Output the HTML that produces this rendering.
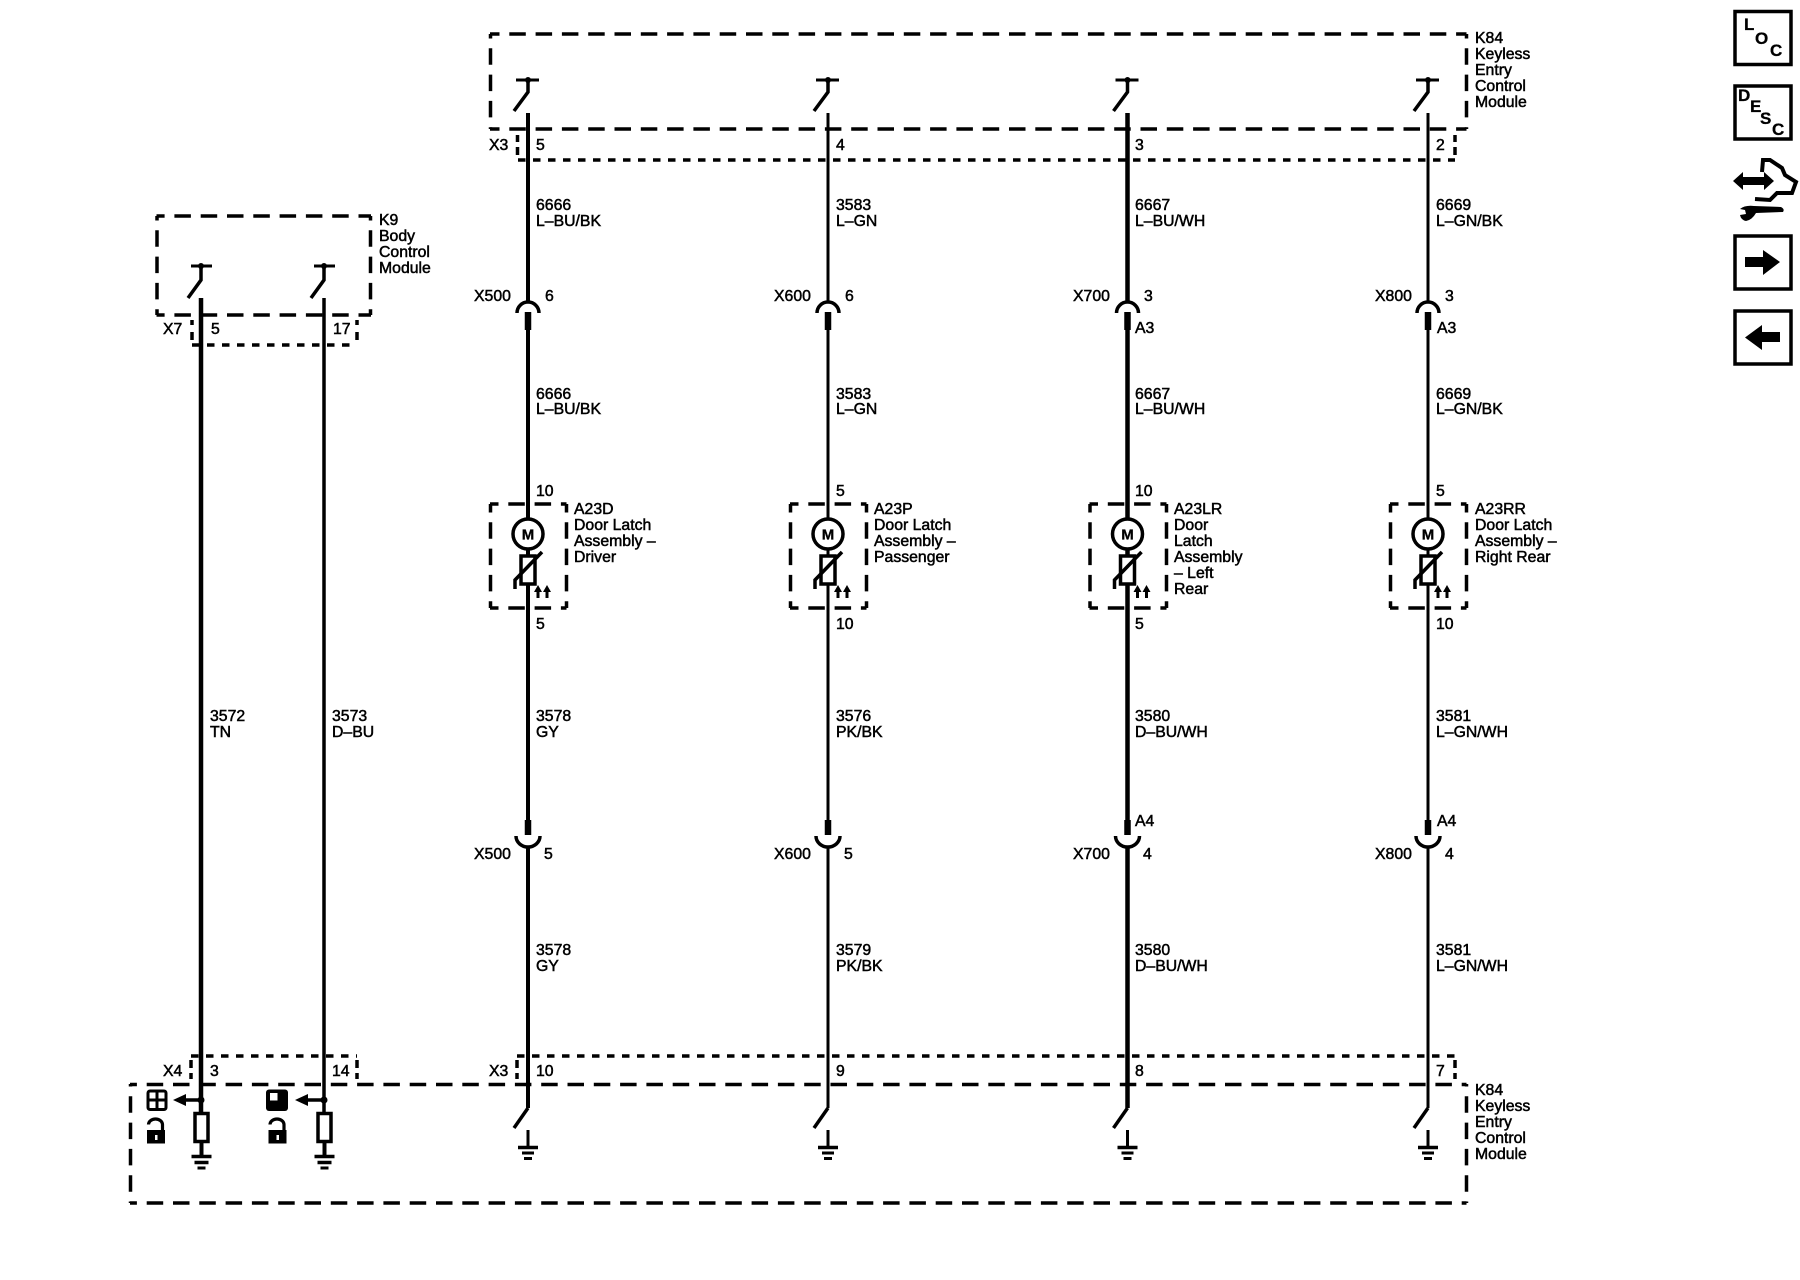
<!DOCTYPE html>
<html>
<head>
<meta charset="utf-8">
<style>
html,body{margin:0;padding:0;background:#fff;width:1800px;height:1280px;overflow:hidden}
svg{display:block}
text{font-family:"Liberation Sans",sans-serif;font-size:15.8px;fill:#000;stroke:#000;stroke-width:.5px}
.b{font-weight:bold;font-size:17px;stroke-width:.3px}
.m{font-weight:bold;font-size:15px;stroke-width:.3px}
.d{fill:none;stroke:#000;stroke-width:3.5;stroke-dasharray:16.5 9.8}
.s{fill:none;stroke:#000;stroke-width:3.5;stroke-dasharray:7.5 7.5}
.v{fill:none;stroke:#000;stroke-width:3.5}
</style>
</head>
<body>
<svg width="1800" height="1280" viewBox="0 0 1800 1280" xmlns="http://www.w3.org/2000/svg">
<defs>
<g id="col" fill="none" stroke="#000">
  <!-- top switch -->
  <path d="M-12 80H11" stroke-width="3"/>
  <circle cx="0" cy="80" r="3" fill="#000" stroke="none"/>
  <path d="M0 80V92L-14 111" stroke-width="3.5"/>
  <!-- wire -->
  <path d="M0 113V303"/>
  <path d="M-11 313A11 11 0 0 1 11 313" stroke-width="3.5"/>
  <path d="M0 312V330" stroke-width="6.5"/>
  <path d="M0 330V822"/>
  <path d="M0 820V835" stroke-width="6.5"/>
  <path d="M-12 836A12 11 0 0 0 12 836" stroke-width="3.5"/>
  <path d="M0 846V1108"/>
  <path d="M0 1108L-14 1128" stroke-width="3.5"/>
  <!-- ground -->
  <path d="M0 1130V1147" stroke-width="3"/>
  <path d="M-10 1147.5H10" stroke-width="3.5"/>
  <path d="M-6 1153H6" stroke-width="3"/>
  <path d="M-4 1158.5H4" stroke-width="3"/>
  <!-- latch -->
  <circle cx="0" cy="534" r="15" fill="#fff" stroke-width="3.5"/>
  <path d="M-7 556H7V584H-7Z" fill="#fff" stroke-width="3.5"/>
  <path d="M-13 589V580L14 552" stroke-width="3.5"/>
  <path d="M10 598V590M19 598V590" stroke-width="3"/>
  <path d="M6 592L10 585L14 592ZM15 592L19 585L23 592Z" fill="#000" stroke="none"/>
</g>
<g id="gnd" fill="none" stroke="#000">
  <path d="M0 1142V1155" stroke-width="4"/>
  <path d="M-10 1156.5H10" stroke-width="3.5"/>
  <path d="M-7 1162.5H7" stroke-width="3.5"/>
  <path d="M-4 1168H4" stroke-width="3"/>
  <rect x="-6.5" y="1113.5" width="13" height="28" fill="#fff" stroke-width="3.5"/>
</g>
<g id="sw">
  <path d="M-10 0H11" stroke="#000" stroke-width="3" fill="none"/>
  <circle cx="0" cy="0" r="3"/>
  <path d="M0 0V14L-13 32" stroke="#000" stroke-width="3.5" fill="none"/>
</g>
<g id="lock">
  <rect x="0" y="12" width="18" height="13.5"/>
  <path d="M1.5 6.5A7 5.5 0 0 1 15.5 6.5V13" fill="none" stroke="#000" stroke-width="3.2"/>
  <rect x="8" y="17" width="2.5" height="5" fill="#fff"/>
</g>
</defs>

<!-- top K84 -->
<path class="d" stroke-dashoffset="7" d="M490 34H1466.5"/>
<path class="d" stroke-dashoffset="7" d="M490 129H1466.5"/>
<path class="d" stroke-dashoffset="12" d="M490.5 34V129"/>
<path class="d" stroke-dashoffset="12" d="M1466.5 34V129"/>
<path class="s" d="M518 160H1455"/>
<path class="v" d="M517.5 135V142M517.5 147V155M1455 135V142M1455 147V155"/>

<!-- bottom K84 -->
<path class="d" stroke-dashoffset="9.6" d="M130 1084.5H1466.5"/>
<path class="d" stroke-dashoffset="9.6" d="M130 1203H1466.5"/>
<path class="d" stroke-dashoffset="14" d="M130.5 1084V1203"/>
<path class="d" stroke-dashoffset="14" d="M1466.5 1084V1203"/>
<path class="s" d="M191 1056H357"/>
<path class="s" d="M517 1056H1455"/>
<path class="v" d="M191 1060V1068M191 1073V1079M357 1060V1068M357 1073V1079M517 1060V1068M517 1073V1079M1455 1060V1068M1455 1073V1079"/>

<!-- K9 -->
<path class="d" stroke-dashoffset="8.4" d="M156.5 216H371"/>
<path class="d" stroke-dashoffset="8.4" d="M156.5 315H371"/>
<path class="d" stroke-dashoffset="12" d="M157 216V315"/>
<path class="d" stroke-dashoffset="12" d="M370.5 216V315"/>
<path class="s" d="M192 345H357"/>
<path class="v" d="M192 320V325M192 332V340M357 320V325M357 332V340"/>

<!-- latch boxes -->
<path class="d" stroke-dashoffset="8" d="M490 504H566.5M490 608H566.5M490.5 504V608M566.5 504V608"/>
<path class="d" stroke-dashoffset="8" d="M790 504H866.5M790 608H866.5M790.5 504V608M866.5 504V608"/>
<path class="d" stroke-dashoffset="8" d="M1089.5 504H1166.5M1089.5 608H1166.5M1090 504V608M1166.5 504V608"/>
<path class="d" stroke-dashoffset="8" d="M1390 504H1466.5M1390 608H1466.5M1390.5 504V608M1466.5 504V608"/>

<!-- columns -->
<use href="#col" x="528" y="0" stroke-width="4"/>
<use href="#col" x="828" y="0" stroke-width="3"/>
<use href="#col" x="1127.5" y="0" stroke-width="4.5"/>
<use href="#col" x="1428" y="0" stroke-width="3"/>

<!-- left wires -->
<path d="M201 298V1114" stroke="#000" stroke-width="4.5" fill="none"/>
<path d="M324 298V1114" stroke="#000" stroke-width="3.5" fill="none"/>
<use href="#sw" x="201" y="266"/>
<use href="#sw" x="324" y="266"/>
<use href="#gnd" x="201.5" y="0"/>
<use href="#gnd" x="324.5" y="0"/>
<!-- left arrows -->
<circle cx="201" cy="1100" r="3.5"/>
<circle cx="324" cy="1100" r="3.5"/>
<path d="M183 1100H201M306 1100H324" stroke="#000" stroke-width="3.5" fill="none"/>
<path d="M173 1100L186 1094V1106ZM295 1100L308 1094V1106Z"/>
<!-- state icons -->
<rect x="148" y="1091" width="18" height="18.5" rx="2" fill="#fff" stroke="#000" stroke-width="3"/>
<path d="M157 1091V1110M148 1100H166" stroke="#000" stroke-width="3" fill="none"/>
<path d="M148 1091H157V1100H148Z" fill="#000" opacity="0"/>
<rect x="266" y="1089.5" width="22" height="21.5" rx="3"/>
<rect x="270" y="1093" width="7.5" height="7.5" fill="#fff"/>
<use href="#lock" x="147" y="1118"/>
<use href="#lock" x="268.5" y="1118"/>

<!-- right nav icons -->
<g fill="none" stroke="#000" stroke-width="3.5">
<rect x="1735" y="11.5" width="56" height="53"/>
<rect x="1735" y="86" width="56" height="53"/>
<rect x="1735" y="236" width="56" height="53"/>
<rect x="1735" y="311" width="56" height="53"/>
<path d="M1762 172L1763 160L1770 160L1782 168L1785 175L1796 182L1792 193L1777 193L1770 200L1755 199" stroke-width="4"/>
</g>
<text class="b" x="1744" y="30">L</text>
<text class="b" x="1755" y="44">O</text>
<text class="b" x="1770" y="56">C</text>
<text class="b" x="1738" y="101">D</text>
<text class="b" x="1750" y="112">E</text>
<text class="b" x="1760" y="124">S</text>
<text class="b" x="1772" y="135">C</text>
<path d="M1733 181L1743 172V177H1764V172L1774 181L1764 190V185H1743V190Z"/>
<path d="M1754 206L1781 207Q1785 209 1783 212L1756 213Q1752 220 1746 221Q1741 220 1740 215L1746 214L1745 210L1740 209Q1745 205 1754 206Z"/>
<path d="M1745 257H1763V250L1780 262L1763 275V267H1745Z"/>
<path d="M1780 332H1762V325L1745 337.5L1762 350V342H1780Z"/>

<!-- labels -->
<text x="1475" y="43">K84</text><text x="1475" y="59">Keyless</text><text x="1475" y="75">Entry</text><text x="1475" y="91">Control</text><text x="1475" y="107">Module</text>
<text x="1475" y="1095">K84</text><text x="1475" y="1111">Keyless</text><text x="1475" y="1127">Entry</text><text x="1475" y="1143">Control</text><text x="1475" y="1159">Module</text>
<text x="379" y="225">K9</text><text x="379" y="241">Body</text><text x="379" y="257">Control</text><text x="379" y="273">Module</text>
<text x="163" y="334">X7</text><text x="211" y="334">5</text><text x="333" y="334">17</text>
<text x="210" y="721">3572</text><text x="210" y="737">TN</text>
<text x="332" y="721">3573</text><text x="332" y="737">D–BU</text>
<text x="163" y="1076">X4</text><text x="210" y="1076">3</text><text x="332" y="1076">14</text>
<text x="489" y="1076">X3</text><text x="489" y="150">X3</text>

<!-- col 1 -->
<text x="536" y="150">5</text>
<text x="536" y="210">6666</text><text x="536" y="226">L–BU/BK</text>
<text x="474" y="301">X500</text><text x="545" y="301">6</text>
<text x="536" y="399">6666</text><text x="536" y="414">L–BU/BK</text>
<text x="536" y="496">10</text>
<text x="574" y="514">A23D</text><text x="574" y="530">Door Latch</text><text x="574" y="546">Assembly –</text><text x="574" y="562">Driver</text>
<text x="536" y="629">5</text>
<text x="536" y="721">3578</text><text x="536" y="737">GY</text>
<text x="474" y="859">X500</text><text x="544" y="859">5</text>
<text x="536" y="955">3578</text><text x="536" y="971">GY</text>
<text x="536" y="1076">10</text>

<!-- col 2 -->
<text x="836" y="150">4</text>
<text x="836" y="210">3583</text><text x="836" y="226">L–GN</text>
<text x="774" y="301">X600</text><text x="845" y="301">6</text>
<text x="836" y="399">3583</text><text x="836" y="414">L–GN</text>
<text x="836" y="496">5</text>
<text x="874" y="514">A23P</text><text x="874" y="530">Door Latch</text><text x="874" y="546">Assembly –</text><text x="874" y="562">Passenger</text>
<text x="836" y="629">10</text>
<text x="836" y="721">3576</text><text x="836" y="737">PK/BK</text>
<text x="774" y="859">X600</text><text x="844" y="859">5</text>
<text x="836" y="955">3579</text><text x="836" y="971">PK/BK</text>
<text x="836" y="1076">9</text>

<!-- col 3 -->
<text x="1135" y="150">3</text>
<text x="1135" y="210">6667</text><text x="1135" y="226">L–BU/WH</text>
<text x="1073" y="301">X700</text><text x="1144" y="301">3</text>
<text x="1135" y="333">A3</text>
<text x="1135" y="399">6667</text><text x="1135" y="414">L–BU/WH</text>
<text x="1135" y="496">10</text>
<text x="1174" y="514">A23LR</text><text x="1174" y="530">Door</text><text x="1174" y="546">Latch</text><text x="1174" y="562">Assembly</text><text x="1174" y="578">– Left</text><text x="1174" y="594">Rear</text>
<text x="1135" y="629">5</text>
<text x="1135" y="721">3580</text><text x="1135" y="737">D–BU/WH</text>
<text x="1135" y="826">A4</text>
<text x="1073" y="859">X700</text><text x="1143" y="859">4</text>
<text x="1135" y="955">3580</text><text x="1135" y="971">D–BU/WH</text>
<text x="1135" y="1076">8</text>

<!-- col 4 -->
<text x="1436" y="150">2</text>
<text x="1436" y="210">6669</text><text x="1436" y="226">L–GN/BK</text>
<text x="1375" y="301">X800</text><text x="1445" y="301">3</text>
<text x="1437" y="333">A3</text>
<text x="1436" y="399">6669</text><text x="1436" y="414">L–GN/BK</text>
<text x="1436" y="496">5</text>
<text x="1475" y="514">A23RR</text><text x="1475" y="530">Door Latch</text><text x="1475" y="546">Assembly –</text><text x="1475" y="562">Right Rear</text>
<text x="1436" y="629">10</text>
<text x="1436" y="721">3581</text><text x="1436" y="737">L–GN/WH</text>
<text x="1437" y="826">A4</text>
<text x="1375" y="859">X800</text><text x="1445" y="859">4</text>
<text x="1436" y="955">3581</text><text x="1436" y="971">L–GN/WH</text>
<text x="1436" y="1076">7</text>

<!-- motor M -->
<text class="m" x="521.7" y="539.5">M</text>
<text class="m" x="821.7" y="539.5">M</text>
<text class="m" x="1121.2" y="539.5">M</text>
<text class="m" x="1421.7" y="539.5">M</text>
</svg>
</body>
</html>
